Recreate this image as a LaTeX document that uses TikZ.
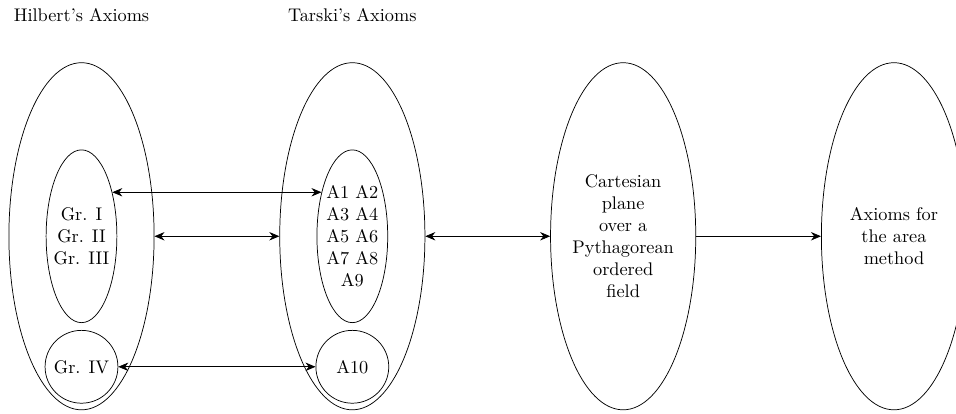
\documentclass[tikz,border=0pt]{standalone}
\usetikzlibrary{shapes,arrows.meta,positioning}

\begin{document}
\begin{tikzpicture}[>={Stealth[length=5.5pt,width=4.6pt,inset=1.8pt]},
    axset/.style={draw,ellipse,inner sep=0pt,minimum width=2.79cm,minimum height=6.67cm,align=center},
    subset/.style={draw,ellipse,inner sep=0pt,inner xsep=-3pt,minimum width=1.36cm,minimum height=3.32cm,align=center},
    extraax/.style={draw,circle,inner sep=0pt,minimum size=1.40cm}]
    \useasboundingbox (0,0) rectangle (18.37,7.95);
    %% Hilbert
    \node[axset] (hil) at (1.566,3.41) {};
    \node[subset] (gr) at (hil.center) {Gr. I\\Gr. II\\Gr. III};
    \node[extraax,below=0.134cm of gr] (g4) {Gr. IV};
    \node[above=0.65cm of hil] (hiltitle) {Hilbert's Axioms};
    %% Tarski
    \node[axset,right=2.4cm of hil] (tar) {};
    \node[subset] (ta) at (tar.center) {A1 A2\\A3 A4\\A5 A6\\A7 A8\\A9};
    \node[extraax,below=0.134cm of ta] (a10) {A10};
    \node[above=0.65cm of tar] (tartitle) {Tarski's Axioms};
    %%
    \node[axset,right=2.4cm of tar] (cart) {Cartesian\\plane\\over a\\Pythagorean\\ordered\\field};
    \node[axset,right=2.4cm of cart] (area) {Axioms for\\the area\\method};
    %
    \draw[<->] (gr.55) -- (ta.125);
    \draw[<->] (hil) -- (tar);
    \draw[<->] (g4) -- (a10);
    \draw[<->] (tar) -- (cart);
    \draw[->] (cart) -- (area);
\end{tikzpicture}
\end{document}
